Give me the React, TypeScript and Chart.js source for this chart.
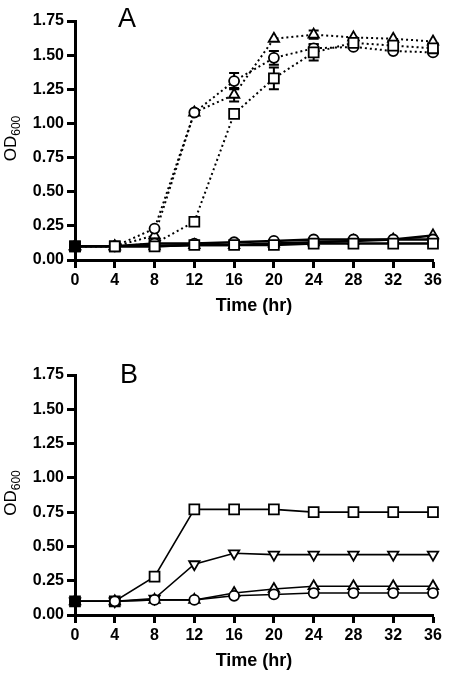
import React, { useEffect, useRef } from "react";
import { Chart, registerables } from "chart.js";

Chart.register(...registerables);

// ---------- data ----------
const hours = [0, 4, 8, 12, 16, 20, 24, 28, 32, 36];
const xTickValues = [0, 4, 8, 12, 16, 20, 24, 28, 32, 36];
const yTickLabels = ["0.00", "0.25", "0.50", "0.75", "1.00", "1.25", "1.50", "1.75"];

// Panel A - dotted series
const aCircleDot = [0.1, 0.1, 0.23, 1.08, 1.31, 1.48, 1.55, 1.56, 1.53, 1.52];
const aTriangleDot = [0.1, 0.1, 0.18, 1.08, 1.21, 1.62, 1.65, 1.63, 1.62, 1.6];
const aSquareDot = [0.1, 0.1, 0.12, 0.28, 1.07, 1.33, 1.52, 1.59, 1.57, 1.55];
const aCircleDotErr = [0, 0, 0, 0, 0.06, 0.05, 0.03, 0, 0, 0];
const aTriangleDotErr = [0, 0, 0, 0, 0.05, 0, 0.03, 0, 0, 0];
const aSquareDotErr = [0, 0, 0, 0, 0, 0.08, 0.06, 0, 0, 0];
// Panel A - solid series
const aCircleSolid = [0.1, 0.1, 0.12, 0.12, 0.13, 0.14, 0.15, 0.15, 0.15, 0.15];
const aTriangleSolid = [0.1, 0.1, 0.1, 0.11, 0.11, 0.12, 0.13, 0.14, 0.15, 0.18];
const aSquareSolid = [0.1, 0.1, 0.1, 0.11, 0.11, 0.11, 0.12, 0.12, 0.12, 0.12];

// Panel B
const bSquare = [0.1, 0.1, 0.28, 0.77, 0.77, 0.77, 0.75, 0.75, 0.75, 0.75];
const bInvTriangle = [0.1, 0.1, 0.12, 0.37, 0.45, 0.44, 0.44, 0.44, 0.44, 0.44];
const bTriangle = [0.1, 0.1, 0.11, 0.11, 0.16, 0.19, 0.21, 0.21, 0.21, 0.21];
const bCircle = [0.1, 0.1, 0.11, 0.11, 0.14, 0.15, 0.16, 0.16, 0.16, 0.16];

const FONT = "'Liberation Sans', Arial, Helvetica, sans-serif";

type Shape = "circle" | "triangle" | "rect" | "invtri";

function makeDataset(values: number[], shape: Shape, dotted: boolean, lineWidth: number, errors?: number[]) {
  const radius = shape === "rect" ? 7 : shape === "circle" ? 5 : 6;
  return {
    data: values.map((v, i) => ({ x: hours[i], y: v })),
    errors,
    borderColor: "#000",
    borderWidth: lineWidth,
    borderDash: dotted ? [2, 3] : [],
    pointStyle: shape === "invtri" ? "triangle" : shape,
    pointRotation: shape === "invtri" ? 180 : 0,
    pointRadius: radius,
    pointBorderWidth: 1.8,
    pointBorderColor: "#000",
    pointBackgroundColor: (ctx: any) => (ctx.dataIndex === 0 ? "#000" : "#fff"),
    fill: false,
    tension: 0,
    clip: false as any,
  };
}

function makePlugin(letter: string, letterX: number, letterBaseline: number) {
  return {
    id: "annot" + letter,
    beforeDatasetsDraw(chart: any) {
      const ctx = chart.ctx;
      const xs = chart.scales.x;
      const ys = chart.scales.y;
      ctx.save();
      ctx.strokeStyle = "#000";
      ctx.lineWidth = 2;
      chart.data.datasets.forEach((ds: any) => {
        if (!ds.errors) return;
        ds.data.forEach((p: any, i: number) => {
          const e = ds.errors[i];
          if (!e) return;
          const x = xs.getPixelForValue(p.x);
          const y1 = ys.getPixelForValue(p.y + e);
          const y2 = ys.getPixelForValue(p.y - e);
          ctx.beginPath();
          ctx.moveTo(x, y1);
          ctx.lineTo(x, y2);
          ctx.moveTo(x - 5, y1);
          ctx.lineTo(x + 5, y1);
          ctx.moveTo(x - 5, y2);
          ctx.lineTo(x + 5, y2);
          ctx.stroke();
        });
      });
      ctx.restore();
    },
    afterDraw(chart: any) {
      const ctx = chart.ctx;
      const area = chart.chartArea;
      ctx.save();
      ctx.fillStyle = "#000";
      // panel letter
      ctx.font = `27px ${FONT}`;
      ctx.textAlign = "left";
      ctx.textBaseline = "alphabetic";
      ctx.fillText(letter, letterX, letterBaseline);
      // x title
      ctx.font = `bold 18px ${FONT}`;
      ctx.textAlign = "center";
      ctx.textBaseline = "middle";
      ctx.fillText("Time (hr)", (area.left + area.right) / 2, area.bottom + 46);
      // y title OD600
      const cy = (area.top + area.bottom) / 2 - 2;
      ctx.translate(0, cy);
      ctx.rotate(-Math.PI / 2);
      ctx.textAlign = "left";
      ctx.textBaseline = "alphabetic";
      ctx.font = `17px ${FONT}`;
      const w1 = ctx.measureText("OD").width;
      ctx.font = `12px ${FONT}`;
      const w2 = ctx.measureText("600").width;
      const start = -(w1 + w2) / 2;
      ctx.font = `17px ${FONT}`;
      ctx.fillText("OD", start, 16);
      ctx.font = `12px ${FONT}`;
      ctx.fillText("600", start + w1, 20);
      ctx.restore();
    },
  };
}

function buildConfig(datasets: any[], padTop: number, xHeight: number, letter: string, letterX: number, letterBaseline: number) {
  return {
    type: "line" as const,
    data: { datasets },
    options: {
      animation: false as const,
      responsive: false,
      devicePixelRatio: 1,
      layout: { padding: { left: 0, right: 17, top: padTop, bottom: 0 } },
      plugins: { legend: { display: false }, tooltip: { enabled: false } },
      scales: {
        x: {
          type: "linear" as const,
          min: 0,
          max: 36,
          afterFit: (s: any) => {
            s.height = xHeight;
          },
          afterBuildTicks: (s: any) => {
            s.ticks = xTickValues.map((v) => ({ value: v }));
          },
          ticks: {
            color: "#000",
            font: { family: FONT, size: 16, weight: "bold" as const },
            padding: 3,
            maxRotation: 0,
            autoSkip: false,
            callback: (v: any) => String(v),
          },
          grid: {
            display: true,
            drawOnChartArea: false,
            drawTicks: true,
            tickLength: 8,
            tickWidth: 3,
            tickColor: "#000",
          },
          border: { display: true, color: "#000", width: 3 },
        },
        y: {
          type: "linear" as const,
          min: 0,
          max: 1.75,
          afterFit: (s: any) => {
            s.width = 75;
          },
          afterBuildTicks: (s: any) => {
            s.ticks = yTickLabels.map((l) => ({ value: parseFloat(l) }));
          },
          ticks: {
            color: "#000",
            font: { family: FONT, size: 16, weight: "bold" as const },
            padding: 3,
            autoSkip: false,
            callback: (v: any) => yTickLabels.find((l) => parseFloat(l) === Number(v)) ?? "",
          },
          grid: {
            display: true,
            drawOnChartArea: false,
            drawTicks: true,
            tickLength: 8,
            tickWidth: 3,
            tickColor: "#000",
          },
          border: { display: true, color: "#000", width: 3 },
        },
      },
    },
    plugins: [makePlugin(letter, letterX, letterBaseline)],
  };
}

function PanelChart({ config, top }: { config: () => any; top: number }) {
  const ref = useRef<HTMLCanvasElement | null>(null);
  useEffect(() => {
    if (!ref.current) return;
    const chart = new Chart(ref.current, config());
    return () => chart.destroy();
  }, []);
  return (
    <canvas
      ref={ref}
      width={450}
      height={337}
      style={{ position: "absolute", left: 0, top, width: 450, height: 337, display: "block" }}
    />
  );
}

export default function App() {
  const configA = () =>
    buildConfig(
      [
        makeDataset(aSquareSolid, "rect", false, 2.5),
        makeDataset(aCircleSolid, "circle", false, 2.5),
        makeDataset(aTriangleSolid, "triangle", false, 2.5),
        makeDataset(aSquareDot, "rect", true, 2, aSquareDotErr),
        makeDataset(aCircleDot, "circle", true, 2, aCircleDotErr),
        makeDataset(aTriangleDot, "triangle", true, 2, aTriangleDotErr),
      ],
      21,
      77,
      "A",
      118,
      27
    );
  const configB = () =>
    buildConfig(
      [
        makeDataset(bCircle, "circle", false, 1.6),
        makeDataset(bTriangle, "triangle", false, 1.6),
        makeDataset(bInvTriangle, "invtri", false, 1.6),
        makeDataset(bSquare, "rect", false, 1.6),
      ],
      38,
      59,
      "B",
      120,
      46
    );
  return (
    <div style={{ position: "absolute", left: 0, top: 0, width: 450, height: 674, background: "#fff" }}>
      <PanelChart config={configA} top={0} />
      <PanelChart config={configB} top={337} />
    </div>
  );
}
